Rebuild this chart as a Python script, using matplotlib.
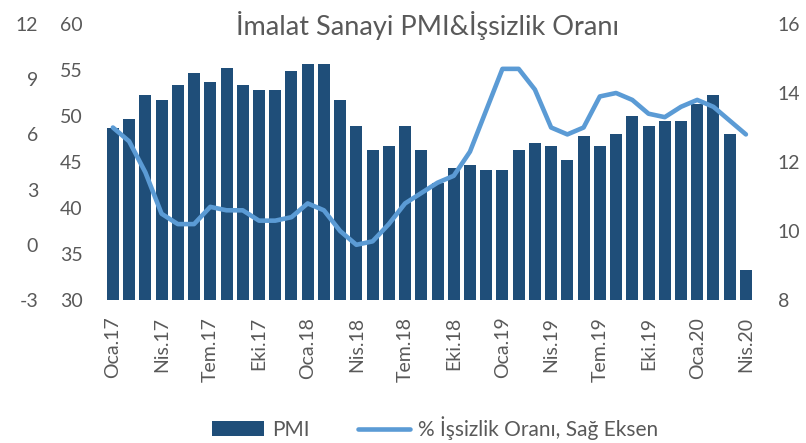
import numpy as np
import matplotlib.pyplot as plt

plt.rcParams['font.family'] = ['Lato', 'DejaVu Sans']
plt.rcParams['axes.unicode_minus'] = False

# Data (Jan 2017 - Apr 2020)
months = ["Oca", "Şub", "Mar", "Nis", "May", "Haz", "Tem", "Ağu", "Eyl", "Eki", "Kas", "Ara"]
labels = [f"{months[i % 12]}.{17 + i // 12}" for i in range(40)]

pmi = [48.7, 49.7, 52.3, 51.7, 53.4, 54.7, 53.7, 55.2, 53.4, 52.8,
       52.8, 54.9, 55.6, 55.6, 51.7, 48.9, 46.3, 46.7, 48.9, 46.3,
       42.7, 44.3, 44.7, 44.1, 44.1, 46.3, 47.1, 46.7, 45.2, 47.8,
       46.7, 48.0, 50.0, 48.9, 49.5, 49.5, 51.3, 52.3, 48.0, 33.3]

unemp = [13.0, 12.6, 11.7, 10.5, 10.2, 10.2, 10.7, 10.6, 10.6, 10.3,
         10.3, 10.4, 10.8, 10.6, 10.0, 9.6, 9.7, 10.2, 10.8, 11.1,
         11.4, 11.6, 12.3, 13.5, 14.7, 14.7, 14.1, 13.0, 12.8, 13.0,
         13.9, 14.0, 13.8, 13.4, 13.3, 13.6, 13.8, 13.6, 13.2, 12.8]

text_col = "#595959"
bar_col = "#1F4E79"
line_col = "#5B9BD5"

fig = plt.figure(figsize=(8.06, 4.43), dpi=100)
ax = fig.add_axes([0.130, 0.3228, 0.8055, 0.623])
x = np.arange(len(pmi))

ax.bar(x, pmi, width=0.74, color=bar_col, label="PMI", zorder=2)
ax.set_ylim(30, 60)
ax.set_yticks(np.arange(30, 61, 5))
ax.set_xlim(-0.5, len(pmi) - 0.5)
ax.set_xticks(x[::3])
ax.set_xticklabels(labels[::3], rotation=90)
ax.tick_params(axis='x', length=0, pad=12, labelsize=14, colors=text_col)
ax.tick_params(axis='y', length=0, pad=16, labelsize=14, colors=text_col)
for s in ax.spines.values():
    s.set_visible(False)

# outer left axis (dummy scale)
ax3 = ax.twinx()
ax3.set_ylim(-3, 12)
ax3.set_yticks(np.arange(-3, 13, 3))
ax3.yaxis.tick_left()
ax3.tick_params(axis='y', length=0, pad=48, labelsize=14, colors=text_col)
for s in ax3.spines.values():
    s.set_visible(False)

# right axis: unemployment
ax2 = ax.twinx()
ax2.plot(x, unemp, color=line_col, lw=3.3, solid_joinstyle='round',
         solid_capstyle='round', label="% İşsizlik Oranı, Sağ Eksen", zorder=3)
ax2.set_ylim(8, 16)
ax2.set_yticks(np.arange(8, 17, 2))
ax2.tick_params(axis='y', length=0, pad=17, labelsize=14, colors=text_col)
for s in ax2.spines.values():
    s.set_visible(False)

fig.text(0.531, 0.921, "İmalat Sanayi PMI&İşsizlik Oranı", ha='center', va='baseline',
         fontsize=19.5, color=text_col)

h1, l1 = ax.get_legend_handles_labels()
h2, l2 = ax2.get_legend_handles_labels()
fig.legend(h1 + h2, l1 + l2, loc='center', bbox_to_anchor=(0.54, 0.034), ncol=2,
           frameon=False, fontsize=15, labelcolor=text_col, handlelength=2.5,
           columnspacing=2.3, handletextpad=0.4)

fig.savefig("out.png", dpi=100)
